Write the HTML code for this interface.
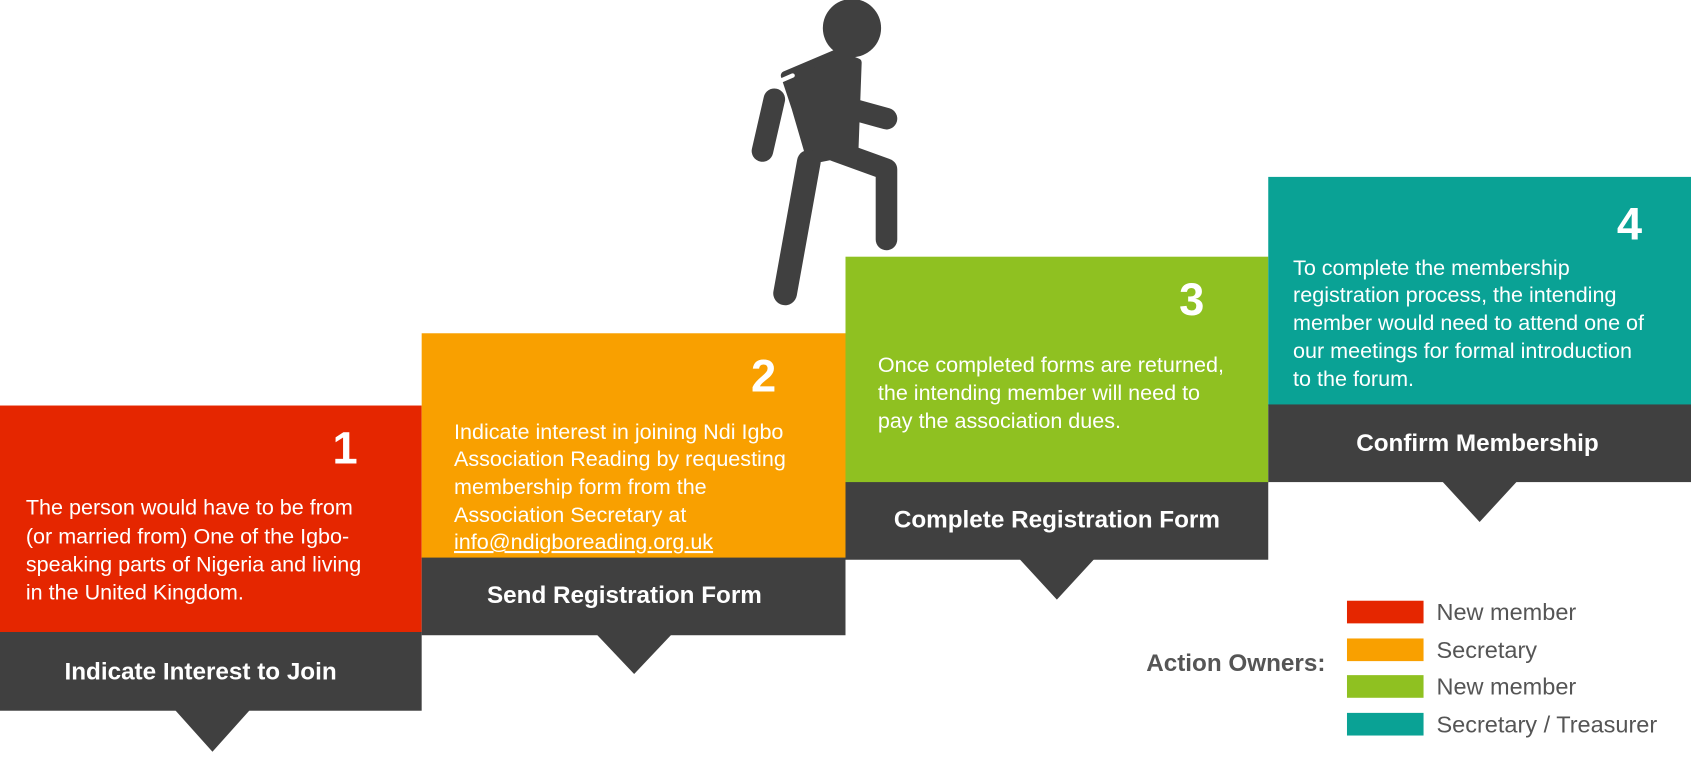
<!DOCTYPE html>
<html><head><meta charset="utf-8"><style>
html,body{margin:0;padding:0;background:#fff}
svg{display:block}
text{font-family:"Liberation Sans",Arial,sans-serif}
.b{fill:#fff;font-size:20px}
.n{fill:#fff;font-size:42px;font-weight:bold}
.l{fill:#fff;font-size:22.5px;font-weight:bold}
.g{fill:#555;font-size:21.8px}
</style></head><body>
<svg width="1691" height="776" viewBox="0 0 1568 719.5" xmlns="http://www.w3.org/2000/svg">
<!-- figure -->
<g fill="#404040" stroke="#404040" stroke-linecap="round" stroke-linejoin="round">
<circle cx="790" cy="26" r="27" stroke="none"/>
<line x1="718" y1="92" x2="707" y2="140" stroke-width="20"/>
<polygon points="728,70 775,50 795,58 792,140 752,148 738,100" stroke-width="8"/>
<line x1="793" y1="102" x2="822" y2="110" stroke-width="20"/>
<polyline points="775,140 822,157 822,222" fill="none" stroke-width="20"/>
<line x1="750" y1="150" x2="728" y2="272" stroke-width="22"/>
<line x1="712" y1="80" x2="735" y2="70" stroke="#fff" stroke-width="4"/>
</g>
<!-- step 1 -->
<rect x="0" y="376" width="391" height="211" fill="#E52600"/>
<rect x="0" y="586" width="391" height="73" fill="#404040"/>
<polygon points="162,658 232,658 197,697" fill="#404040"/>
<text class="n" x="320" y="430" text-anchor="middle">1</text>
<text class="b" x="24" y="477">The person would have to be from</text>
<text class="b" x="24" y="504">(or married from) One of the Igbo-</text>
<text class="b" x="24" y="530">speaking parts of Nigeria and living</text>
<text class="b" x="24" y="556">in the United Kingdom.</text>
<text class="l" x="186" y="630" text-anchor="middle">Indicate Interest to Join</text>
<!-- step 2 -->
<rect x="391" y="309" width="393" height="209" fill="#F9A000"/>
<rect x="391" y="517" width="393" height="72" fill="#404040"/>
<polygon points="553,588 623,588 588,625" fill="#404040"/>
<text class="n" x="708" y="363" text-anchor="middle">2</text>
<text class="b" x="421" y="407">Indicate interest in joining Ndi Igbo</text>
<text class="b" x="421" y="432">Association Reading by requesting</text>
<text class="b" x="421" y="458">membership form from the</text>
<text class="b" x="421" y="484">Association Secretary at</text>
<text class="b" x="421" y="509" text-decoration="underline">info@ndigboreading.org.uk</text>
<text class="l" x="579" y="559" text-anchor="middle">Send Registration Form</text>
<!-- step 3 -->
<rect x="784" y="238" width="392" height="210" fill="#8FC121"/>
<rect x="784" y="447" width="392" height="72" fill="#404040"/>
<polygon points="945,518 1015,518 980,556" fill="#404040"/>
<text class="n" x="1105" y="292" text-anchor="middle">3</text>
<text class="b" x="814" y="345">Once completed forms are returned,</text>
<text class="b" x="814" y="371">the intending member will need to</text>
<text class="b" x="814" y="397">pay the association dues.</text>
<text class="l" x="980" y="489" text-anchor="middle">Complete Registration Form</text>
<!-- step 4 -->
<rect x="1176" y="164" width="392" height="212" fill="#0AA295"/>
<rect x="1176" y="375" width="392" height="72" fill="#404040"/>
<polygon points="1337,446 1407,446 1372,484" fill="#404040"/>
<text class="n" x="1511" y="222" text-anchor="middle">4</text>
<text class="b" x="1199" y="255">To complete the membership</text>
<text class="b" x="1199" y="280">registration process, the intending</text>
<text class="b" x="1199" y="306">member would need to attend one of</text>
<text class="b" x="1199" y="332">our meetings for formal introduction</text>
<text class="b" x="1199" y="358">to the forum.</text>
<text class="l" x="1370" y="418" text-anchor="middle">Confirm Membership</text>
<!-- legend -->
<text x="1229" y="622" text-anchor="end" font-size="22.5" font-weight="bold" fill="#555">Action Owners:</text>
<rect x="1249" y="557" width="71" height="21" fill="#E52600"/>
<rect x="1249" y="592" width="71" height="21" fill="#F9A000"/>
<rect x="1249" y="626" width="71" height="21" fill="#8FC121"/>
<rect x="1249" y="661" width="71" height="21" fill="#0AA295"/>
<text class="g" x="1332" y="575">New member</text>
<text class="g" x="1332" y="610">Secretary</text>
<text class="g" x="1332" y="644">New member</text>
<text class="g" x="1332" y="679">Secretary / Treasurer</text>
</svg>
</body></html>
